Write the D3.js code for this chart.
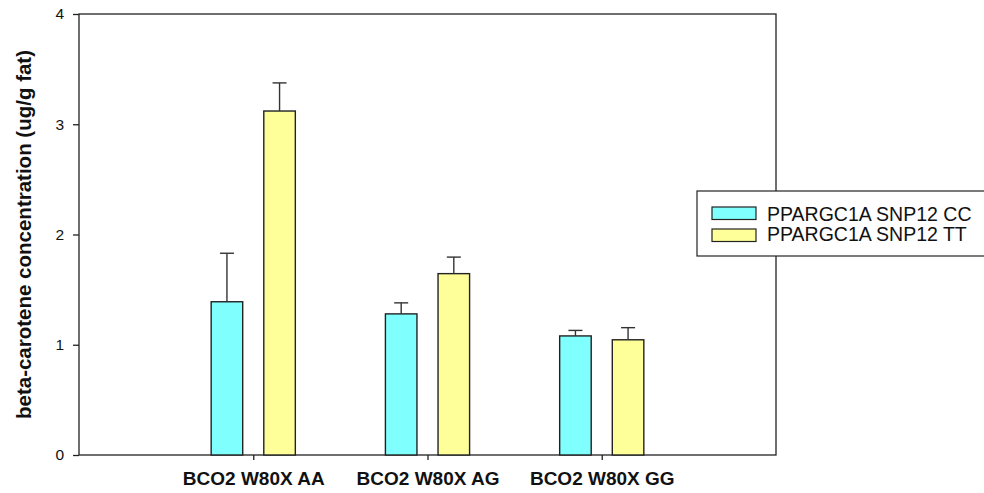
<!DOCTYPE html>
<html>
<head>
<meta charset="utf-8">
<script src="https://cdn.jsdelivr.net/npm/d3@7"></script>
<style>
  html, body { margin: 0; padding: 0; background: #fff; }
  svg { display: block; font-family: "Liberation Sans", Arial, sans-serif; }
</style>
</head>
<body>
<svg id="chart" width="984" height="493"></svg>
<script>
// Genotype groups on the x axis
const categories = ["BCO2 W80X AA", "BCO2 W80X AG", "BCO2 W80X GG"];
// Series (PPARGC1A genotype)
const seriesNames = ["PPARGC1A SNP12 CC", "PPARGC1A SNP12 TT"];
// Mean beta-carotene concentration and upper error (ug/g fat)
const ccMeans = [1.39, 1.28, 1.08];
const ccErrors = [0.44, 0.10, 0.05];
const ttMeans = [3.12, 1.645, 1.045];
const ttErrors = [0.255, 0.15, 0.11];
// Y-axis ticks
const yTicks = [0, 1, 2, 3, 4];

const seriesColors = ["#80ffff", "#ffff99"];
const series = [
  { name: seriesNames[0], means: ccMeans, errors: ccErrors, color: seriesColors[0] },
  { name: seriesNames[1], means: ttMeans, errors: ttErrors, color: seriesColors[1] }
];

const svg = d3.select("#chart");
const plotLeft = 79, plotRight = 776, plotTop = 14, plotBottom = 455;

// Groups sit at positions 1..3 of a 0..4 axis
const x = d3.scaleLinear().domain([0, categories.length + 1]).range([plotLeft, plotRight]);
const y = d3.scaleLinear().domain([0, 4]).range([plotBottom, plotTop]);

const unit = x(1) - x(0);
const barW = unit * 0.181;
const offsets = [-unit * 0.151, unit * 0.151];
const ink = "#222";

// Frame
svg.append("rect")
  .attr("x", plotLeft).attr("y", plotTop)
  .attr("width", plotRight - plotLeft).attr("height", plotBottom - plotTop)
  .attr("fill", "none").attr("stroke", ink).attr("stroke-width", 1.3);

// Y axis
const yAxis = d3.axisLeft(y).tickValues(yTicks).tickFormat(d3.format("d")).tickSize(6).tickPadding(9);
const gy = svg.append("g").attr("transform", `translate(${plotLeft},0)`).call(yAxis);
gy.select(".domain").remove();
gy.selectAll(".tick line").attr("stroke", ink).attr("stroke-width", 1.3);
gy.selectAll(".tick text").attr("font-size", 15.5).attr("fill", "#111")
  .attr("font-family", "'Liberation Sans', Arial, sans-serif");

// X axis
const xAxis = d3.axisBottom(x).tickValues(categories.map((d, i) => i + 1))
  .tickFormat((d) => categories[d - 1]).tickSize(5).tickPadding(12);
const gx = svg.append("g").attr("transform", `translate(0,${plotBottom})`).call(xAxis);
gx.select(".domain").remove();
gx.selectAll(".tick line").attr("stroke", ink).attr("stroke-width", 1.3);
gx.selectAll(".tick text").attr("font-size", 19).attr("font-weight", "bold").attr("fill", "#111")
  .attr("font-family", "'Liberation Sans', Arial, sans-serif");

// Y-axis title
svg.append("text")
  .attr("transform", `translate(31,${(plotTop + plotBottom) / 2}) rotate(-90)`)
  .attr("text-anchor", "middle")
  .attr("font-size", 20.5).attr("font-weight", "bold").attr("fill", "#111")
  .text("beta-carotene concentration (ug/g fat)");

// Bars with upper error bars
series.forEach((s, si) => {
  const g = svg.append("g");
  categories.forEach((c, ci) => {
    const cx = x(ci + 1) + offsets[si];
    g.append("rect")
      .attr("x", cx - barW / 2).attr("y", y(s.means[ci]))
      .attr("width", barW).attr("height", y(0) - y(s.means[ci]))
      .attr("fill", s.color).attr("stroke", ink).attr("stroke-width", 1.4);
    const yTop = y(s.means[ci] + s.errors[ci]);
    g.append("line")
      .attr("x1", cx).attr("x2", cx)
      .attr("y1", y(s.means[ci])).attr("y2", yTop)
      .attr("stroke", "#333").attr("stroke-width", 1.4);
    g.append("line")
      .attr("x1", cx - 7).attr("x2", cx + 7)
      .attr("y1", yTop).attr("y2", yTop)
      .attr("stroke", "#333").attr("stroke-width", 1.4);
  });
});

// Legend
const lg = svg.append("g");
lg.append("rect")
  .attr("x", 697).attr("y", 191).attr("width", 300).attr("height", 65)
  .attr("fill", "#fff").attr("stroke", ink).attr("stroke-width", 1.2);
series.forEach((s, i) => {
  lg.append("rect")
    .attr("x", 712).attr("y", 207 + i * 22).attr("width", 44).attr("height", 12.5)
    .attr("fill", s.color).attr("stroke", ink).attr("stroke-width", 1.2);
  lg.append("text")
    .attr("x", 767).attr("y", 221 + i * 20)
    .attr("font-size", 19.5).attr("fill", "#111")
    .text(s.name);
});
</script>
</body>
</html>
